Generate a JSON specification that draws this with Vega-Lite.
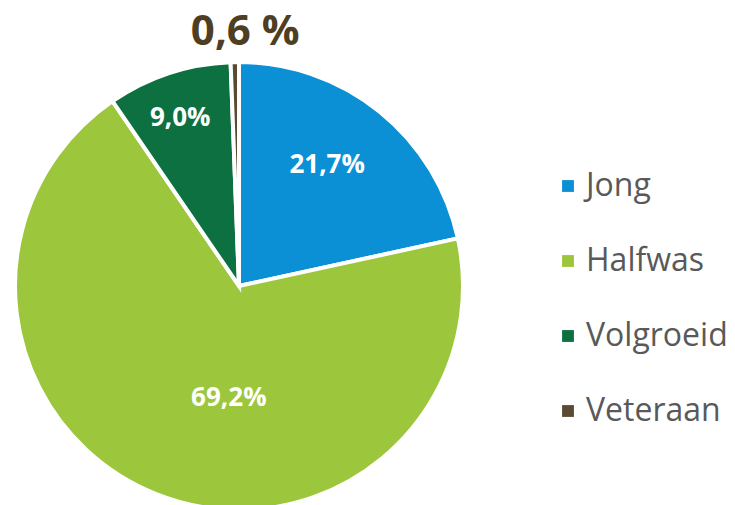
{
  "$schema": "https://vega.github.io/schema/vega-lite/v6.json",
  "width": 478,
  "height": 572,
  "autosize": "none",
  "padding": {"left": 0, "top": 0, "right": 257, "bottom": -67},
  "background": "white",
  "config": {"view": {"stroke": null}},
  "data": {
    "values": [
      {"type": "Jong", "pct": 21.7, "label": "21,7%", "i": 1},
      {"type": "Halfwas", "pct": 69.2, "label": "69,2%", "i": 2},
      {"type": "Volgroeid", "pct": 9.0, "label": "9,0%", "i": 3},
      {"type": "Veteraan", "pct": 0.6, "label": "0,6 %", "i": 4}
    ]
  },
  "encoding": {
    "theta": {"field": "pct", "type": "quantitative", "stack": true},
    "order": {"field": "i", "type": "quantitative"}
  },
  "layer": [
    {
      "mark": {"type": "arc", "outerRadius": 224, "stroke": "white", "strokeWidth": 4},
      "encoding": {
        "color": {
          "field": "type",
          "type": "nominal",
          "scale": {
            "domain": ["Jong", "Halfwas", "Volgroeid", "Veteraan"],
            "range": ["#0B8FD5", "#9CC63C", "#0D7040", "#594A31"]
          },
          "legend": {
            "orient": "none",
            "legendX": 552,
            "legendY": 170,
            "title": null,
            "symbolType": "square",
            "symbolSize": 140,
            "symbolStrokeWidth": 0,
            "labelFontSize": 32,
            "labelFont": "Open Sans",
            "labelColor": "#595959",
            "labelOffset": 2,
            "rowPadding": 43
          }
        }
      }
    },
    {
      "mark": {"type": "text", "radius": 150, "dx": -6, "dy": -4, "fontSize": 26, "fontWeight": "bold", "font": "Open Sans", "color": "white"},
      "encoding": {"text": {"condition": {"test": "datum.type == 'Jong'", "field": "label"}, "value": ""}}
    },
    {
      "mark": {"type": "text", "radius": 125, "dx": 36, "dy": -4, "fontSize": 26, "fontWeight": "bold", "font": "Open Sans", "color": "white"},
      "encoding": {"text": {"condition": {"test": "datum.type == 'Halfwas'", "field": "label"}, "value": ""}}
    },
    {
      "mark": {"type": "text", "radius": 178, "dx": -3, "dy": 1, "fontSize": 26, "fontWeight": "bold", "font": "Open Sans", "color": "white"},
      "encoding": {"text": {"condition": {"test": "datum.type == 'Volgroeid'", "field": "label"}, "value": ""}}
    },
    {
      "mark": {"type": "text", "radius": 254, "dx": 11, "fontSize": 42, "fontWeight": "bold", "font": "Open Sans", "color": "#4E3F24"},
      "encoding": {"text": {"condition": {"test": "datum.type == 'Veteraan'", "field": "label"}, "value": ""}}
    }
  ]
}
